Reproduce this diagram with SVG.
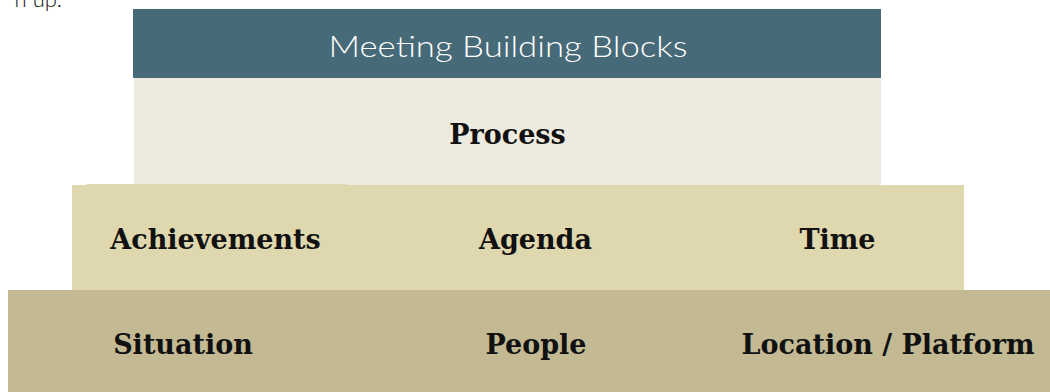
<svg xmlns="http://www.w3.org/2000/svg" width="1050" height="392" viewBox="0 0 1050 392">
<style>
.lbl{font-family:"DejaVu Serif","Liberation Serif",serif;font-weight:bold;font-size:27px;fill:#111;text-anchor:middle}
.hdr{font-family:"Lato","Open Sans","Liberation Sans",sans-serif;font-weight:300;font-size:30px;fill:#ffffff;text-anchor:middle}
.frag{font-family:"Lato","Open Sans","Liberation Sans",sans-serif;font-weight:300;font-size:22px;fill:#111;text-anchor:end}
</style>
<rect x="0" y="0" width="1050" height="392" fill="#ffffff"/>
<text class="frag" x="62" y="7">n up.</text>
<g id="header">
<rect x="133" y="9" width="748" height="69" fill="#476a78"/>
<text class="hdr" x="508" y="57" textLength="359" lengthAdjust="spacingAndGlyphs">Meeting Building Blocks</text>
</g>
<g id="process">
<rect x="134" y="78" width="747" height="107" fill="#edeadf"/>
<text class="lbl" x="507.5" y="144">Process</text>
</g>
<g id="row2">
<rect x="72" y="185" width="892" height="105" fill="#dfd7ae"/>
<rect x="87" y="184" width="259" height="1" fill="#dfd7ae"/>
</g>
<g id="achievements"><text class="lbl" x="215.5" y="249">Achievements</text></g>
<g id="agenda"><text class="lbl" x="535.5" y="249">Agenda</text></g>
<g id="time"><text class="lbl" x="837.5" y="249">Time</text></g>
<g id="row3">
<rect x="8" y="290" width="1042" height="102" fill="#c3ba94"/>
</g>
<g id="situation"><text class="lbl" x="183" y="354">Situation</text></g>
<g id="people"><text class="lbl" x="536" y="354">People</text></g>
<g id="location"><text class="lbl" x="888" y="354">Location / Platform</text></g>
<g id="connectors"></g>
</svg>
